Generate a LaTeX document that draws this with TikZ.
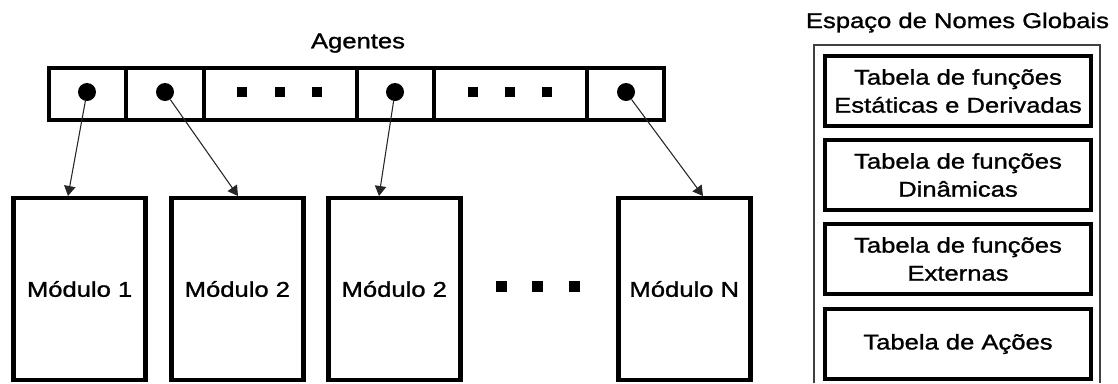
\documentclass[tikz,border=0pt]{standalone}
\usepackage{fontspec}
\newfontfamily\wide[FakeStretch=1.2,FakeBold=1.2]{Liberation Sans}
\usetikzlibrary{arrows.meta}
\begin{document}
\begin{tikzpicture}[x=0.75pt,y=-0.75pt,
  lbl/.style={font=\wide\fontsize{16}{21}\selectfont, inner sep=0pt},
  modbox/.style={draw, line width=3.3pt, minimum width=132*0.75pt, minimum height=182*0.75pt, inner sep=0pt, lbl},
  tabbox/.style={draw, line width=3.3pt, minimum width=266*0.75pt, minimum height=70*0.75pt, inner sep=0pt, align=center, lbl},
  cell/.style={draw, line width=3pt, minimum height=51.5*0.75pt, inner sep=0pt},
  ptr/.style={circle, fill, inner sep=0pt, minimum size=18*0.75pt},
  sq/.style={fill, inner sep=0pt, minimum size=10*0.75pt},
  bigsq/.style={fill, inner sep=0pt, minimum size=11*0.75pt},
  arr/.style={-{Triangle[length=7.5pt,width=8.5pt]}, line width=0.8pt, black!85}
]
\useasboundingbox (0,0) rectangle (1118,383);

% title labels
\node[lbl, anchor=base] (agt) at (358,48.3) {Agentes};
\node[lbl, anchor=base] (ttl) at (957.5,28) {Espaço de Nomes Globais};

% agents bar
\node[cell, minimum width=77*0.75pt]  (c1) at (87.5,93.75) {};
\node[cell, minimum width=78*0.75pt]  (c2) at (165,93.75) {};
\node[cell, minimum width=153*0.75pt] (c3) at (280.5,93.75) {};
\node[cell, minimum width=77*0.75pt]  (c4) at (395.5,93.75) {};
\node[cell, minimum width=153*0.75pt] (c5) at (510.5,93.75) {};
\node[cell, minimum width=77*0.75pt]  (c6) at (625.5,93.75) {};

\node[ptr] (d1) at (87,92) {};
\node[ptr] (d2) at (165,92) {};
\node[ptr] (d4) at (395,92) {};
\node[ptr] (d6) at (626,92) {};

\node[sq] (s1) at (242,92) {};
\node[sq] (s2) at (280,92) {};
\node[sq] (s3) at (317,92) {};
\node[sq] (s4) at (473,92) {};
\node[sq] (s5) at (510,92) {};
\node[sq] (s6) at (547,92) {};

% modules
\node[modbox] (m1) at (79.6,289) {Módulo 1};
\node[modbox] (m2) at (237.4,289) {Módulo 2};
\node[modbox] (m3) at (394.3,289) {Módulo 2};
\node[modbox] (mn) at (684.3,289) {Módulo N};

\node[bigsq] (e1) at (501,286) {};
\node[bigsq] (e2) at (537.5,286) {};
\node[bigsq] (e3) at (574,286) {};

% arrows
\coordinate (p1) at (68,196);
\coordinate (p2) at (238,196);
\coordinate (p3) at (379,196);
\coordinate (p4) at (703,196);
\draw[arr] (d1) -- (p1);
\draw[arr] (d2) -- (p2);
\draw[arr] (d4) -- (p3);
\draw[arr] (d6) -- (p4);

% global namespace
\draw[line width=1pt, black!75] (814,383) -- (814,45) -- (1100,45) -- (1100,383);
\node[tabbox] (t1) at (958,91) {Tabela de funções\\Estáticas e Derivadas};
\node[tabbox] (t2) at (958,175) {Tabela de funções\\Dinâmicas};
\node[tabbox] (t3) at (958,259) {Tabela de funções\\Externas};
\node[tabbox] (t4) at (958,344) {Tabela de Ações};
\end{tikzpicture}
\end{document}
